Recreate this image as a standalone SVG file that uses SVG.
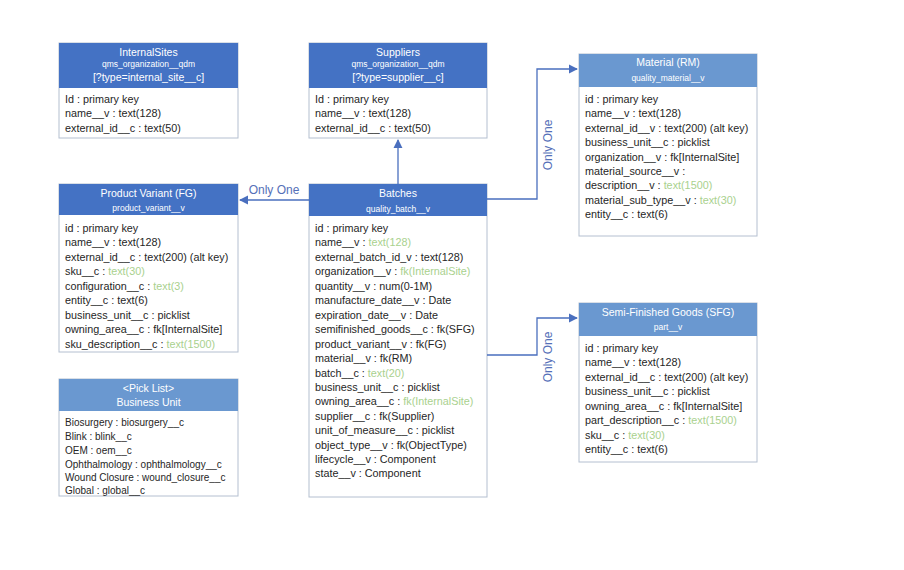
<svg xmlns="http://www.w3.org/2000/svg" width="904" height="570" viewBox="0 0 904 570">
<style>
.box{fill:#fff;stroke:#b4bfd0;stroke-width:1}
.hd{fill:#4472c4}
.hl{fill:#6a98d0}
.t{font-family:"Liberation Sans",Arial,sans-serif;font-size:10.8px;fill:#262626}
.p{font-size:10px}
.g{fill:#a9d18e}
.h1{font-family:"Liberation Sans",Arial,sans-serif;font-size:10.5px;fill:#fff;text-anchor:middle}
.h2{font-family:"Liberation Sans",Arial,sans-serif;font-size:8.5px;fill:#fff;text-anchor:middle}
.c{fill:none;stroke:#4a6fbe;stroke-width:1.3}
.lbl{font-family:"Liberation Sans",Arial,sans-serif;font-size:12px;fill:#5570b8}
</style>
<defs>
<marker id="ar" viewBox="0 0 10 10" refX="9" refY="5" markerWidth="7" markerHeight="7" orient="auto"><path d="M0,0 L10,5 L0,10 z" fill="#4a6fbe"/></marker>
</defs>
<rect width="904" height="570" fill="#fff"/>

<g id="internal-sites">
<rect class="box" x="59" y="43" width="179" height="95"/>
<rect class="hd" x="59" y="43" width="179" height="45"/>
<text class="h1" x="148.5" y="56">InternalSites</text>
<text class="h2" x="148.5" y="67">qms_organization__qdm</text>
<text class="h1" x="148.5" y="81">[?type=internal_site__c]</text>
<text class="t" x="65" y="103">Id : primary key</text>
<text class="t" x="65" y="117">name__v : text(128)</text>
<text class="t" x="65" y="132">external_id__c : text(50)</text>
</g>

<g id="suppliers">
<rect class="box" x="309" y="43" width="178" height="95"/>
<rect class="hd" x="309" y="43" width="178" height="45"/>
<text class="h1" x="398" y="56">Suppliers</text>
<text class="h2" x="398" y="67">qms_organization__qdm</text>
<text class="h1" x="398" y="81">[?type=supplier__c]</text>
<text class="t" x="315" y="103">Id : primary key</text>
<text class="t" x="315" y="117">name__v : text(128)</text>
<text class="t" x="315" y="132">external_id__c : text(50)</text>
</g>

<g id="material">
<rect class="box" x="579" y="54" width="178" height="182"/>
<rect class="hl" x="579" y="54" width="178" height="33"/>
<text class="h1" x="668" y="66">Material (RM)</text>
<text class="h2" x="668" y="81">quality_material__v</text>
<text class="t" x="585" y="103">id : primary key</text>
<text class="t" x="585" y="117">name__v : text(128)</text>
<text class="t" x="585" y="132">external_id__v : text(200) (alt key)</text>
<text class="t" x="585" y="146">business_unit__c : picklist</text>
<text class="t" x="585" y="161">organization__v : fk[InternalSite]</text>
<text class="t" x="585" y="175">material_source__v :</text>
<text class="t" x="585" y="189">description__v : <tspan class="g">text(1500)</tspan></text>
<text class="t" x="585" y="204">material_sub_type__v : <tspan class="g">text(30)</tspan></text>
<text class="t" x="585" y="218">entity__c : text(6)</text>
</g>

<g id="product-variant">
<rect class="box" x="59" y="184" width="179" height="168"/>
<rect class="hd" x="59" y="184" width="179" height="31"/>
<text class="h1" x="148.5" y="197">Product Variant (FG)</text>
<text class="h2" x="148.5" y="211">product_variant__v</text>
<text class="t" x="65" y="232">id : primary key</text>
<text class="t" x="65" y="246">name__v : text(128)</text>
<text class="t" x="65" y="261">external_id__c : text(200) (alt key)</text>
<text class="t" x="65" y="275">sku__c : <tspan class="g">text(30)</tspan></text>
<text class="t" x="65" y="290">configuration__c : <tspan class="g">text(3)</tspan></text>
<text class="t" x="65" y="304">entity__c : text(6)</text>
<text class="t" x="65" y="319">business_unit__c : picklist</text>
<text class="t" x="65" y="333">owning_area__c : fk[InternalSite]</text>
<text class="t" x="65" y="348">sku_description__c : <tspan class="g">text(1500)</tspan></text>
</g>

<g id="batches">
<rect class="box" x="309" y="184" width="178" height="313"/>
<rect class="hd" x="309" y="184" width="178" height="32"/>
<text class="h1" x="398" y="197">Batches</text>
<text class="h2" x="398" y="212">quality_batch__v</text>
<text class="t" x="315" y="232">id : primary key</text>
<text class="t" x="315" y="246">name__v : <tspan class="g">text(128)</tspan></text>
<text class="t" x="315" y="261">external_batch_id_v : text(128)</text>
<text class="t" x="315" y="275">organization__v : <tspan class="g">fk(InternalSite)</tspan></text>
<text class="t" x="315" y="290">quantity__v : num(0-1M)</text>
<text class="t" x="315" y="304">manufacture_date__v : Date</text>
<text class="t" x="315" y="319">expiration_date__v : Date</text>
<text class="t" x="315" y="333">semifinished_goods__c : fk(SFG)</text>
<text class="t" x="315" y="348">product_variant__v : fk(FG)</text>
<text class="t" x="315" y="362">material__v : fk(RM)</text>
<text class="t" x="315" y="377">batch__c : <tspan class="g">text(20)</tspan></text>
<text class="t" x="315" y="391">business_unit__c : picklist</text>
<text class="t" x="315" y="405">owning_area__c : <tspan class="g">fk(InternalSite)</tspan></text>
<text class="t" x="315" y="420">supplier__c : fk(Supplier)</text>
<text class="t" x="315" y="434">unit_of_measure__c : picklist</text>
<text class="t" x="315" y="449">object_type__v : fk(ObjectType)</text>
<text class="t" x="315" y="463">lifecycle__v : Component</text>
<text class="t" x="315" y="477">state__v : Component</text>
</g>

<g id="sfg">
<rect class="box" x="579" y="303" width="178" height="159"/>
<rect class="hl" x="579" y="303" width="178" height="33"/>
<text class="h1" x="668" y="316">Semi-Finished Goods (SFG)</text>
<text class="h2" x="668" y="330">part__v</text>
<text class="t" x="585" y="352">id : primary key</text>
<text class="t" x="585" y="366">name__v : text(128)</text>
<text class="t" x="585" y="381">external_id__c : text(200) (alt key)</text>
<text class="t" x="585" y="395">business_unit__c : picklist</text>
<text class="t" x="585" y="410">owning_area__c : fk[InternalSite]</text>
<text class="t" x="585" y="424">part_description__c : <tspan class="g">text(1500)</tspan></text>
<text class="t" x="585" y="439">sku__c : <tspan class="g">text(30)</tspan></text>
<text class="t" x="585" y="453">entity__c : text(6)</text>
</g>

<g id="pick-list">
<rect class="box" x="59" y="379" width="179" height="117"/>
<rect class="hl" x="59" y="379" width="179" height="32"/>
<text class="h1" x="148.5" y="392">&lt;Pick List&gt;</text>
<text class="h1" x="148.5" y="406">Business Unit</text>
<text class="t p" x="65" y="426">Biosurgery : biosurgery__c</text>
<text class="t p" x="65" y="440">Blink : blink__c</text>
<text class="t p" x="65" y="454">OEM : oem__c</text>
<text class="t p" x="65" y="468">Ophthalmology : ophthalmology__c</text>
<text class="t p" x="65" y="481">Wound Closure :  wound_closure__c</text>
<text class="t p" x="65" y="494">Global : global__c</text>
</g>

<g id="connectors">
<path class="c" d="M398,184 L398,140" marker-end="url(#ar)"/>
<path class="c" d="M309,200 L240,200" marker-end="url(#ar)"/>
<text class="lbl" x="274" y="194" text-anchor="middle">Only One</text>
<path class="c" d="M487,199 L537,199 L537,69 L577,69" marker-end="url(#ar)"/>
<text class="lbl" transform="translate(552,145) rotate(-90)" text-anchor="middle">Only One</text>
<path class="c" d="M487,355 L537,355 L537,318 L577,318" marker-end="url(#ar)"/>
<text class="lbl" transform="translate(552,357) rotate(-90)" text-anchor="middle">Only One</text>
</g>
</svg>
